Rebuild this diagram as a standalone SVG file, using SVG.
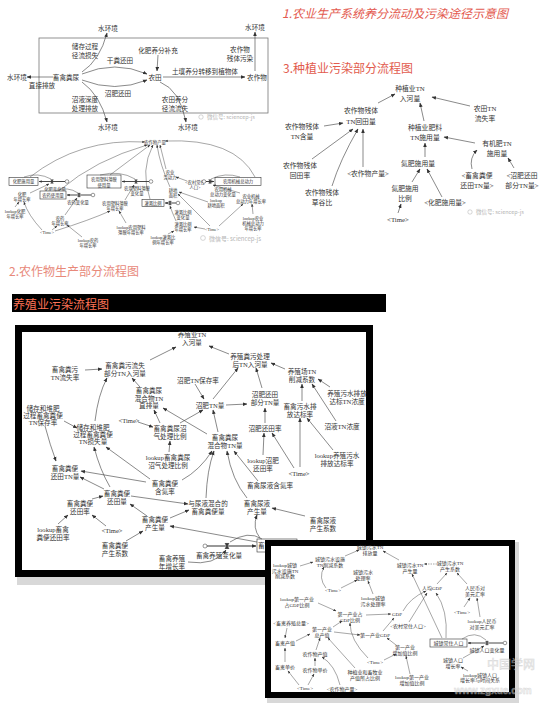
<svg xmlns="http://www.w3.org/2000/svg" width="547" height="705" viewBox="0 0 547 705">
<defs>
<style>
text{font-family:"Liberation Serif","Noto Sans CJK SC",serif;fill:#333;text-anchor:middle;dominant-baseline:central}
.s1{font-size:6.6px}
.s2{font-size:4.3px}
.s3{font-size:6.8px}
.sb{font-size:6.6px}
.sf{font-size:5px}
.ttl{font-family:"Noto Sans CJK SC",sans-serif;font-size:12px;text-anchor:start}
.wm{fill:#b4b4b4;text-anchor:start;font-family:"Noto Sans CJK SC",sans-serif}
.ln{fill:none;stroke:#3a3a3a;stroke-width:0.6}
.lt{fill:none;stroke:#3a3a3a;stroke-width:0.45}
.box{fill:#fff;stroke:#333;stroke-width:0.6}
.pipe{fill:none;stroke:#333;stroke-width:1.1}
.src{fill:#fff;stroke:#333;stroke-width:0.5}
</style>
<marker id="a" viewBox="0 0 10 10" refX="9" refY="5" markerWidth="4.5" markerHeight="4.5" markerUnits="userSpaceOnUse" orient="auto"><path d="M0,1L10,5L0,9z" fill="#333"/></marker>
<marker id="as" viewBox="0 0 10 10" refX="9" refY="5" markerWidth="3" markerHeight="3" markerUnits="userSpaceOnUse" orient="auto"><path d="M0,1L10,5L0,9z" fill="#333"/></marker>
<g id="vv"><path d="M-1.3,-1.8H1.3L-1.3,1.8H1.3Z" fill="#333"/></g>
</defs>
<rect width="547" height="705" fill="#fff"/>

<!-- titles -->
<g id="title1"><text class="ttl" x="282" y="12" style="font-style:italic;fill:#e35a4f">1.农业生产系统养分流动及污染途径示意图</text></g>
<g id="title3"><text class="ttl" x="283" y="67" style="fill:#e25b4e">3.种植业污染部分流程图</text></g>
<g id="title2"><text class="ttl" x="9" y="270" style="fill:#e8897a">2.农作物生产部分流程图</text></g>
<g id="title4"><rect x="12" y="294" width="374" height="18" fill="#000"/><text class="ttl" x="13" y="303" style="fill:#ff7356">养殖业污染流程图</text></g>

<!-- ============ Section 1 ============ -->
<rect x="39" y="38" width="229" height="75" fill="none" stroke="#777" stroke-width="0.8"/>
<g id="s1-nodes">
<g id="s1_w1"><text class="s1" x="108" y="28">水环境</text></g>
<g id="s1_ccjl"><text class="s1" x="85" y="46"><tspan x="85" y="46">储存过程</tspan><tspan x="85" y="55">径流损失</tspan></text></g>
<g id="s1_gf"><text class="s1" x="120" y="60">干粪还田</text></g>
<g id="s1_hf"><text class="s1" x="158" y="50">化肥养分补充</text></g>
<g id="s1_cz"><text class="s1" x="240" y="49"><tspan x="240" y="49">农作物</tspan><tspan x="240" y="58">残体污染</tspan></text></g>
<g id="s1_w2"><text class="s1" x="255" y="27">水环境</text></g>
<g id="s1_w3"><text class="s1" x="17" y="77">水环境</text></g>
<g id="s1_zj"><text class="s1" x="42" y="85">直接排放</text></g>
<g id="s1_xq"><text class="s1" x="66" y="77">畜禽粪尿</text></g>
<g id="s1_nt"><text class="s1" x="155" y="77">农田</text></g>
<g id="s1_tr"><text class="s1" x="205" y="71">土壤养分转移到植物体</text></g>
<g id="s1_nzw"><text class="s1" x="257" y="77">农作物</text></g>
<g id="s1_zf"><text class="s1" x="118" y="93">沼肥还田</text></g>
<g id="s1_zy"><text class="s1" x="85" y="99"><tspan x="85" y="99">沼液深度</tspan><tspan x="85" y="108">处理排放</tspan></text></g>
<g id="s1_ntyf"><text class="s1" x="175" y="99"><tspan x="175" y="99">农田养分</tspan><tspan x="175" y="108">径流流失</tspan></text></g>
<g id="s1_w4"><text class="s1" x="108" y="127">水环境</text></g>
<g id="s1_w5"><text class="s1" x="188" y="127">水环境</text></g>
</g>
<g id="s1-connectors" class="ln">
<path d="M82,72 Q100,60 107,33" marker-end="url(#a)"/>
<path d="M82,74 Q115,60 147,74" marker-end="url(#a)"/>
<path d="M82,80 Q115,93 147,80" marker-end="url(#a)"/>
<path d="M82,82 Q100,95 107,122" marker-end="url(#a)"/>
<path d="M160,82 Q180,90 186,122" marker-end="url(#a)"/>
<path d="M158,55 L157,71" marker-end="url(#a)"/>
<path d="M163,77 L245,77" marker-end="url(#a)"/>
<path d="M255,71 L255,32" marker-end="url(#a)"/>
<path d="M53,77 L27,77" marker-end="url(#a)"/>
</g>
<g id="wm1"><circle cx="201" cy="117" r="2.2" fill="none" stroke="#bbb" stroke-width="0.6"/><text class="wm" x="207" y="117" style="font-size:5.5px">微信号: sciencep-js</text></g>

<!-- ============ Section 3 ============ -->
<g id="s3-nodes">
<g id="s3_rh"><text class="s3" x="410" y="88"><tspan x="410" y="88">种植业TN</tspan><tspan x="410" y="98">入河量</tspan></text></g>
<g id="s3_hth"><text class="s3" x="361" y="110"><tspan x="361" y="110">农作物残体</tspan><tspan x="361" y="121">TN回田量</tspan></text></g>
<g id="s3_ls"><text class="s3" x="485" y="108"><tspan x="485" y="108">农田TN</tspan><tspan x="485" y="118">流失率</tspan></text></g>
<g id="s3_hl"><text class="s3" x="302" y="126"><tspan x="302" y="126">农作物残体</tspan><tspan x="302" y="136">TN含量</tspan></text></g>
<g id="s3_fl"><text class="s3" x="425" y="127"><tspan x="425" y="127">种植业肥料</tspan><tspan x="425" y="137">TN施用量</tspan></text></g>
<g id="s3_yj"><text class="s3" x="497" y="143"><tspan x="497" y="143">有机肥TN</tspan><tspan x="497" y="153">施用量</tspan></text></g>
<g id="s3_htl"><text class="s3" x="300" y="165"><tspan x="300" y="165">农作物残体</tspan><tspan x="300" y="175">回田率</tspan></text></g>
<g id="s3_df"><text class="s3" x="418" y="163">氮肥施用量</text></g>
<g id="s3_cl"><text class="s3" x="368" y="173">&lt;农作物产量&gt;</text></g>
<g id="s3_xq"><text class="s3" x="477" y="175"><tspan x="477" y="175">&lt;畜禽粪便</tspan><tspan x="477" y="185">还田TN量&gt;</tspan></text></g>
<g id="s3_zf"><text class="s3" x="522" y="175"><tspan x="522" y="175">&lt;沼肥还田</tspan><tspan x="522" y="185">部分TN量&gt;</tspan></text></g>
<g id="s3_cgb"><text class="s3" x="322" y="192"><tspan x="322" y="192">农作物残体</tspan><tspan x="322" y="202">草谷比</tspan></text></g>
<g id="s3_dfb"><text class="s3" x="405" y="188"><tspan x="405" y="188">氮肥施用</tspan><tspan x="405" y="198">比例</tspan></text></g>
<g id="s3_hfs"><text class="s3" x="445" y="202">&lt;化肥施用量&gt;</text></g>
<g id="s3_time"><text class="s3" x="398" y="219">&lt;Time&gt;</text></g>
</g>
<g id="s3-connectors" class="ln">
<path d="M378,103 L395,94" marker-end="url(#a)"/>
<path d="M470,106 L432,97" marker-end="url(#a)"/>
<path d="M424,121 L420,103" marker-end="url(#a)"/>
<path d="M324,126 L343,123" marker-end="url(#a)"/>
<path d="M312,159 L353,129" marker-end="url(#a)"/>
<path d="M332,186 Q340,160 358,129" marker-end="url(#a)"/>
<path d="M363,167 L363,129" marker-end="url(#a)"/>
<path d="M425,157 L425,143" marker-end="url(#a)"/>
<path d="M475,143 L444,137" marker-end="url(#a)"/>
<path d="M472,169 Q469,158 477,150" marker-end="url(#a)"/>
<path d="M514,168 L508,158" marker-end="url(#a)"/>
<path d="M412,182 L420,169" marker-end="url(#a)"/>
<path d="M442,197 L427,169" marker-end="url(#a)"/>
<path d="M398,213 L401,204" marker-end="url(#a)"/>
</g>
<g id="wm3"><circle cx="470" cy="212" r="2.2" fill="none" stroke="#bbb" stroke-width="0.6"/><text class="wm" x="476" y="212" style="font-size:5.5px">微信号: sciencep-js</text></g>

<!-- ============ Section 2 ============ -->
<g id="s2-nodes">
<g id="s2_cl"><text class="s2" x="155" y="142">农作物产量</text></g>
<g id="s2_ldl"><text class="s2" x="170" y="172"><tspan x="170" y="172">农业</tspan><tspan x="170" y="177">劳动力</tspan></text></g>
<g id="s2_nc"><text class="s2" x="195" y="182"><tspan x="195" y="182">&lt;农村常住</tspan><tspan x="195" y="187">人口&gt;</tspan></text></g>
<g id="s2_hf"><rect class="box" x="9" y="177.5" width="29" height="8"/><text class="s2" x="23.5" y="181.5">化肥施用量</text></g>
<g id="s2_hfb"><text class="s2" x="55" y="189">化肥变化量</text></g>
<g id="s2_hfz"><text class="s2" x="22" y="194"><tspan x="22" y="194">化肥</tspan><tspan x="22" y="199">年增长率</tspan></text></g>
<g id="s2_lhf"><text class="s2" x="15" y="211"><tspan x="15" y="211">lookup化肥</tspan><tspan x="15" y="216">年增长率</tspan></text></g>
<g id="s2_ny"><rect class="box" x="40" y="191" width="26" height="8"/><text class="s2" x="53" y="195">农药使用量</text></g>
<g id="s2_nyb"><text class="s2" x="78" y="202">农药变化量</text></g>
<g id="s2_nyz"><text class="s2" x="60" y="218"><tspan x="60" y="218">农药</tspan><tspan x="60" y="223">年增长率</tspan></text></g>
<g id="s2_t1"><text class="s2" x="47" y="232">&lt;Time&gt;</text></g>
<g id="s2_lny"><text class="s2" x="88" y="240"><tspan x="88" y="240">lookup农药</tspan><tspan x="88" y="245">年增长率</tspan></text></g>
<g id="s2_sl"><rect class="box" x="87" y="175" width="34" height="13"/><text class="s2" x="104" y="179"><tspan x="104" y="179">农用塑料薄膜</tspan><tspan x="104" y="184.5">使用量</tspan></text></g>
<g id="s2_slb"><text class="s2" x="137" y="188"><tspan x="137" y="188">农用塑料薄膜</tspan><tspan x="137" y="193">变化量</tspan></text></g>
<g id="s2_slz"><text class="s2" x="115" y="203"><tspan x="115" y="203">农用塑料薄膜</tspan><tspan x="115" y="208">年增长率</tspan></text></g>
<g id="s2_lsl"><text class="s2" x="131" y="227"><tspan x="131" y="227">lookup农用塑料</tspan><tspan x="131" y="232">薄膜年增长率</tspan></text></g>
<g id="s2_gd"><text class="s2" x="173" y="190"><tspan x="173" y="190">耕地</tspan><tspan x="173" y="195">面积</tspan></text></g>
<g id="s2_gg"><rect class="box" x="142" y="199.5" width="22" height="7"/><text class="s2" x="153" y="203">灌溉比例</text></g>
<g id="s2_ggb"><text class="s2" x="183" y="212"><tspan x="183" y="212">灌溉比例</tspan><tspan x="183" y="217">变化量</tspan></text></g>
<g id="s2_lgd"><text class="s2" x="216" y="200"><tspan x="216" y="200">lookup</tspan><tspan x="216" y="205">耕地面积</tspan></text></g>
<g id="s2_jx"><rect class="box" x="215" y="177.5" width="46" height="8"/><text class="s2" x="238" y="181.5">农用机械总动力</text></g>
<g id="s2_jxb"><text class="s2" x="223" y="188.5"><tspan x="223" y="188.5">农用机械</tspan><tspan x="223" y="193.5">总动力变化量</tspan></text></g>
<g id="s2_jxz"><text class="s2" x="251" y="196"><tspan x="251" y="196">农业机械</tspan><tspan x="251" y="201">总动力年增长率</tspan></text></g>
<g id="s2_ljx"><text class="s2" x="253" y="218"><tspan x="253" y="218">lookup农业</tspan><tspan x="253" y="223">机械总动力</tspan><tspan x="253" y="228">年增长率</tspan></text></g>
<g id="s2_ggz"><text class="s2" x="183" y="224"><tspan x="183" y="224">灌溉比例</tspan><tspan x="183" y="229">年增长率</tspan></text></g>
<g id="s2_t2"><text class="s2" x="212" y="229">&lt;Time&gt;</text></g>
<g id="s2_lgg"><text class="s2" x="163" y="237"><tspan x="163" y="237">lookup灌溉比</tspan><tspan x="163" y="242">例年增长率</tspan></text></g>
</g>
<g id="s2-connectors" class="lt">
<path class="pipe" d="M65,181.5 L39,181.5" marker-end="url(#as)" style="stroke-width:0.9"/>
<circle class="src" cx="67" cy="181.5" r="1.8"/><use href="#vv" x="52" y="181.5"/>
<path class="pipe" d="M91,195 L67,195" marker-end="url(#as)" style="stroke-width:0.9"/>
<circle class="src" cx="93" cy="195" r="1.8"/><use href="#vv" x="79" y="195"/>
<path class="pipe" d="M149,181.5 L122,181.5" marker-end="url(#as)" style="stroke-width:0.9"/>
<circle class="src" cx="151" cy="181.5" r="1.8"/><use href="#vv" x="136" y="181.5"/>
<path class="pipe" d="M176,203 L165,203" marker-end="url(#as)" style="stroke-width:0.9"/>
<circle class="src" cx="178" cy="203" r="1.8"/><use href="#vv" x="170" y="203"/>
<path class="pipe" d="M206,181.5 L214,181.5" marker-end="url(#as)" style="stroke-width:0.9"/>
<circle class="src" cx="204" cy="181.5" r="1.8"/><use href="#vv" x="210" y="181.5"/>
<path d="M30,177 Q80,138 145,142" marker-end="url(#as)"/>
<path d="M60,190 Q95,160 147,145" marker-end="url(#as)"/>
<path d="M110,175 L150,145" marker-end="url(#as)"/>
<path d="M150,199 Q140,170 153,145" marker-end="url(#as)"/>
<path d="M170,187 Q160,165 157,145" marker-end="url(#as)"/>
<path d="M166,169 L160,145" marker-end="url(#as)"/>
<path d="M255,177 Q235,138 165,141" marker-end="url(#as)"/>
<path d="M187,181 L176,177" marker-end="url(#as)"/>
<path d="M30,193 L49,184" marker-end="url(#as)"/>
<path d="M15,207 L19,202" marker-end="url(#as)"/>
<path d="M42,230 Q28,215 24,202" marker-end="url(#as)"/>
<path d="M52,230 L57,226" marker-end="url(#as)"/>
<path d="M65,215 L77,198" marker-end="url(#as)"/>
<path d="M82,237 L67,225" marker-end="url(#as)"/>
<path d="M55,231 Q90,220 110,211" marker-end="url(#as)"/>
<path d="M125,200 L134,185" marker-end="url(#as)"/>
<path d="M126,223 L119,211" marker-end="url(#as)"/>
<path d="M176,221 Q172,212 170,206" marker-end="url(#as)"/>
<path d="M168,234 L174,231" marker-end="url(#as)"/>
<path d="M205,229 L194,227" marker-end="url(#as)"/>
<path d="M210,226 L178,194" marker-end="url(#as)"/>
<path d="M208,202 L179,192" marker-end="url(#as)"/>
<path d="M219,226 L243,204" marker-end="url(#as)"/>
<path d="M253,214 L252,204" marker-end="url(#as)"/>
<path d="M240,193 L213,185" marker-end="url(#as)"/>
<path d="M24,177 Q38,172 51,179"/>
<path d="M100,175 Q120,170 135,179"/>
<path d="M55,191 Q68,186 78,193"/>
<path d="M240,177 Q225,172 211,179"/>
</g>
<g id="wm2"><circle cx="203" cy="238" r="2.4" fill="none" stroke="#bbb" stroke-width="0.6"/><text class="wm" x="209" y="238" style="font-size:6px">微信号: sciencep-js</text></g>

<!-- ============ Frame 1 : livestock ============ -->
<rect x="17" y="577" width="359" height="8" fill="#d8d8d8"/>
<rect x="18.5" y="328.5" width="351" height="245" fill="#fff" stroke="#000" stroke-width="7"/>
<g id="f1-nodes">
<g id="b_rh"><text class="sb" x="192" y="334"><tspan x="192" y="334">养殖业TN</tspan><tspan x="192" y="341.5">入河量</tspan></text></g>
<g id="b_lsbf"><text class="sb" x="125" y="365"><tspan x="125" y="365">畜禽粪污流失</tspan><tspan x="125" y="372.5">部分TN入河量</tspan></text></g>
<g id="b_lsl"><text class="sb" x="65" y="369"><tspan x="65" y="369">畜禽粪污</tspan><tspan x="65" y="376.5">TN流失率</tspan></text></g>
<g id="b_zfbc"><text class="sb" x="198" y="380">沼肥TN保存率</text></g>
<g id="b_zp"><text class="sb" x="149" y="390"><tspan x="149" y="390">畜禽粪尿</tspan><tspan x="149" y="397.5">混合物TN</tspan><tspan x="149" y="405">直排量</tspan></text></g>
<g id="b_bcl"><text class="sb" x="43" y="408"><tspan x="43" y="408">储存和堆肥</tspan><tspan x="43" y="415">过程畜禽粪便</tspan><tspan x="43" y="422">TN保存率</tspan></text></g>
<g id="b_t1"><text class="sb" x="129" y="420">&lt;Time&gt;</text></g>
<g id="b_ssl"><text class="sb" x="93" y="427"><tspan x="93" y="427">储存和堆肥</tspan><tspan x="93" y="434">过程畜禽粪便</tspan><tspan x="93" y="441">TN损失量</tspan></text></g>
<g id="b_zqbl"><text class="sb" x="170" y="428"><tspan x="170" y="428">畜禽粪尿沼</tspan><tspan x="170" y="436">气处理比例</tspan></text></g>
<g id="b_lzq"><text class="sb" x="168" y="457"><tspan x="168" y="457">lookup畜禽粪尿</tspan><tspan x="168" y="465">沼气处理比例</tspan></text></g>
<g id="b_zftn"><text class="sb" x="210" y="405">沼肥TN量</text></g>
<g id="b_zfht"><text class="sb" x="265" y="394"><tspan x="265" y="394">沼肥还田</tspan><tspan x="265" y="402">部分TN量</tspan></text></g>
<g id="b_hhw"><text class="sb" x="225" y="437"><tspan x="225" y="437">畜禽粪尿</tspan><tspan x="225" y="445">混合物TN量</tspan></text></g>
<g id="b_zfhtl"><text class="sb" x="265" y="428">沼肥还田率</text></g>
<g id="b_lzf"><text class="sb" x="263" y="460"><tspan x="263" y="460">lookup沼肥</tspan><tspan x="263" y="468">还田率</tspan></text></g>
<g id="b_t2"><text class="sb" x="299" y="473">&lt;Time&gt;</text></g>
<g id="b_hdl"><text class="sb" x="165" y="483"><tspan x="165" y="483">畜禽粪便</tspan><tspan x="165" y="491">含氮率</tspan></text></g>
<g id="b_nyhd"><text class="sb" x="270" y="485">畜禽尿液含氮率</text></g>
<g id="b_clh"><text class="sb" x="250" y="356"><tspan x="250" y="356">养殖粪污处理</tspan><tspan x="250" y="363.5">后TN入河量</tspan></text></g>
<g id="b_xj"><text class="sb" x="302" y="371"><tspan x="302" y="371">养殖场TN</tspan><tspan x="302" y="378.5">削减系数</tspan></text></g>
<g id="b_nd"><text class="sb" x="347" y="393"><tspan x="347" y="393">养殖污水排放</tspan><tspan x="347" y="400.5">达标TN浓度</tspan></text></g>
<g id="b_dbl"><text class="sb" x="300" y="406"><tspan x="300" y="406">畜禽污水排</tspan><tspan x="300" y="413.5">放达标率</tspan></text></g>
<g id="b_zy"><text class="sb" x="342" y="426">沼液TN浓度</text></g>
<g id="b_ldb"><text class="sb" x="337" y="455"><tspan x="337" y="455">lookup养殖污水</tspan><tspan x="337" y="463">排放达标率</tspan></text></g>
<g id="b_httn"><text class="sb" x="65" y="468"><tspan x="65" y="468">畜禽粪便</tspan><tspan x="65" y="475.5">还田TN量</tspan></text></g>
<g id="b_htl_q"><text class="sb" x="117" y="493"><tspan x="117" y="493">畜禽粪便</tspan><tspan x="117" y="500.5">还田量</tspan></text></g>
<g id="b_htlv"><text class="sb" x="80" y="503"><tspan x="80" y="503">畜禽粪便</tspan><tspan x="80" y="511">还田率</tspan></text></g>
<g id="b_lht"><text class="sb" x="53" y="529"><tspan x="53" y="529">lookup畜禽</tspan><tspan x="53" y="537">粪便还田率</tspan></text></g>
<g id="b_t3"><text class="sb" x="112" y="530">&lt;Time&gt;</text></g>
<g id="b_csl"><text class="sb" x="155" y="519"><tspan x="155" y="519">畜禽粪便</tspan><tspan x="155" y="527">产生量</tspan></text></g>
<g id="b_csx"><text class="sb" x="115" y="545"><tspan x="115" y="545">畜禽粪便</tspan><tspan x="115" y="553">产生系数</tspan></text></g>
<g id="b_hh"><text class="sb" x="208" y="503"><tspan x="208" y="503">与尿液混合的</tspan><tspan x="208" y="511">畜禽粪便量</tspan></text></g>
<g id="b_ny"><text class="sb" x="257" y="503"><tspan x="257" y="503">畜禽尿液</tspan><tspan x="257" y="510.5">产生量</tspan></text></g>
<g id="b_nyx"><text class="sb" x="323" y="520"><tspan x="323" y="520">畜禽尿液</tspan><tspan x="323" y="528">产生系数</tspan></text></g>
<g id="b_yzb"><text class="sb" x="219" y="555">畜禽养殖变化量</text></g>
<g id="b_yzz"><text class="sb" x="172" y="558"><tspan x="172" y="558">畜禽养殖</tspan><tspan x="172" y="566">年增长率</tspan></text></g>
<g id="b_box"><rect class="box" x="257" y="539" width="40" height="13"/><text class="sb" x="258" y="545.5" style="text-anchor:start">畜禽</text></g>
</g>
<g id="f1-connectors" class="ln">
<path d="M150,360 L176,347" marker-end="url(#a)"/>
<path d="M229,354 L209,346" marker-end="url(#a)"/>
<path d="M85,370 L102,369" marker-end="url(#a)"/>
<path d="M140,387 L132,378" marker-end="url(#a)"/>
<path d="M95,421 Q98,395 107,378" marker-end="url(#a)"/>
<path d="M64,421 L77,428" marker-end="url(#a)"/>
<path d="M45,426 Q50,445 56,461" marker-end="url(#a)"/>
<path d="M195,384 L204,399" marker-end="url(#a)"/>
<path d="M213,399 L238,368" marker-end="url(#a)"/>
<path d="M226,405 L247,404" marker-end="url(#a)"/>
<path d="M262,388 L256,368" marker-end="url(#a)"/>
<path d="M285,369 L271,363" marker-end="url(#a)"/>
<path d="M330,387 L318,379" marker-end="url(#a)"/>
<path d="M302,401 L302,384" marker-end="url(#a)"/>
<path d="M336,421 L312,384" marker-end="url(#a)"/>
<path d="M265,423 L265,408" marker-end="url(#a)"/>
<path d="M263,455 L264,433" marker-end="url(#a)"/>
<path d="M294,468 L272,433" marker-end="url(#a)"/>
<path d="M333,450 L307,418" marker-end="url(#a)"/>
<path d="M300,467 L300,418" marker-end="url(#a)"/>
<path d="M218,432 L213,410" marker-end="url(#a)"/>
<path d="M207,434 L163,408" marker-end="url(#a)"/>
<path d="M180,423 L203,410" marker-end="url(#a)"/>
<path d="M160,423 L154,410" marker-end="url(#a)"/>
<path d="M138,422 L153,427" marker-end="url(#a)"/>
<path d="M169,452 L170,441" marker-end="url(#a)"/>
<path d="M146,482 L81,471" marker-end="url(#a)"/>
<path d="M182,480 Q200,470 212,451" marker-end="url(#a)"/>
<path d="M110,487 Q100,470 94,447" marker-end="url(#a)"/>
<path d="M150,479 L106,447" marker-end="url(#a)"/>
<path d="M104,489 L80,477" marker-end="url(#a)"/>
<path d="M92,499 L103,496" marker-end="url(#a)"/>
<path d="M58,524 L68,515" marker-end="url(#a)"/>
<path d="M106,526 L92,515" marker-end="url(#a)"/>
<path d="M147,516 L130,504" marker-end="url(#a)"/>
<path d="M170,518 L189,510" marker-end="url(#a)"/>
<path d="M131,496 L188,504" marker-end="url(#a)"/>
<path d="M126,541 L143,531" marker-end="url(#a)"/>
<path d="M206,498 Q207,470 214,451" marker-end="url(#a)"/>
<path d="M247,498 Q232,480 227,451" marker-end="url(#a)"/>
<path d="M258,481 L234,451" marker-end="url(#a)"/>
<path d="M305,516 L272,508" marker-end="url(#a)"/>
<path d="M260,538 Q252,528 257,515" marker-end="url(#a)"/>
<path d="M257,542 L170,526" marker-end="url(#a)"/>
<path d="M188,562 Q215,566 226,550" marker-end="url(#a)"/>
<path d="M262,539 Q248,530 230,542"/>
<path class="pipe" d="M207,546 L256,546" marker-end="url(#a)"/>
<circle class="src" cx="205" cy="546" r="2"/>
<use href="#vv" transform="translate(227,546) scale(1.4)"/>
</g>

<!-- ============ Frame 2 : urban / GDP ============ -->
<rect x="267" y="697" width="252" height="6" fill="#d8d8d8"/>
<rect x="514" y="542" width="5" height="160" fill="#d8d8d8"/>
<rect x="268" y="543" width="244" height="152" fill="#fff" stroke="#000" stroke-width="6"/>
<g id="wm-big" opacity="0.55">
<text x="511" y="663" style="font-family:'Noto Sans CJK SC',sans-serif;font-size:12px;fill:#eee;stroke:#bbb;stroke-width:0.5">中国学网</text>
<text x="493" y="690" style="font-family:'Liberation Sans',sans-serif;font-size:10px;font-weight:bold;fill:#eee;stroke:#bbb;stroke-width:0.5">www.zgxue.com</text>
</g>
<g id="f2-nodes">
<g id="c_pf"><text class="sf" x="370" y="547"><tspan x="370" y="547">城镇污水TN</tspan><tspan x="370" y="552.5">排放量</tspan></text></g>
<g id="c_lxj"><text class="sf" x="285" y="565"><tspan x="285" y="565">lookup城镇</tspan><tspan x="285" y="570.5">污水设施TN</tspan><tspan x="285" y="576">削减系数</tspan></text></g>
<g id="c_xj"><text class="sf" x="330" y="559"><tspan x="330" y="559">城镇污水设施</tspan><tspan x="330" y="564.5">TN削减系数</tspan></text></g>
<g id="c_cll"><text class="sf" x="363" y="572"><tspan x="363" y="572">城镇污水</tspan><tspan x="363" y="577.5">处理率</tspan></text></g>
<g id="c_t1"><text class="sf" x="333" y="590">&lt;Time&gt;</text></g>
<g id="c_lcl"><text class="sf" x="373" y="598"><tspan x="373" y="598">lookup城镇</tspan><tspan x="373" y="603.5">污水处理率</tspan></text></g>
<g id="c_lgdp"><text class="sf" x="297" y="599"><tspan x="297" y="599">lookup第一产业</tspan><tspan x="297" y="604.5">占GDP比例</tspan></text></g>
<g id="c_gdpb"><text class="sf" x="350" y="614"><tspan x="350" y="614">第一产业占</tspan><tspan x="350" y="619.5">GDP比例</tspan></text></g>
<g id="c_gdp"><text class="sf" x="397" y="614">GDP</text></g>
<g id="c_xqz"><text class="sf" x="291" y="623">&lt;畜禽养殖总量&gt;</text></g>
<g id="c_nc"><text class="sf" x="408" y="626">&lt;农村常住人口&gt;</text></g>
<g id="c_zcz"><text class="sf" x="322" y="629"><tspan x="322" y="629">第一产业</tspan><tspan x="322" y="634.5">总产值</tspan></text></g>
<g id="c_xqcz"><text class="sf" x="285" y="643">畜禽产值</text></g>
<g id="c_dygdp"><text class="sf" x="375" y="635">第一产业GDP</text></g>
<g id="c_nzcz"><text class="sf" x="315" y="654">农作物产值</text></g>
<g id="c_t2"><text class="sf" x="375" y="662">&lt;Time&gt;</text></g>
<g id="c_zjz"><text class="sf" x="405" y="647"><tspan x="405" y="647">第一产业</tspan><tspan x="405" y="652.5">增加值比例</tspan></text></g>
<g id="c_xqdj"><text class="sf" x="285" y="667">畜禽单价</text></g>
<g id="c_nzdj"><text class="sf" x="315" y="670">农作物单价</text></g>
<g id="c_bl"><text class="sf" x="365" y="672"><tspan x="365" y="672">种植业和畜牧业</tspan><tspan x="365" y="677.5">产值所占比例</tspan></text></g>
<g id="c_t3"><text class="sf" x="305" y="688">&lt;Time&gt;</text></g>
<g id="c_ncl"><text class="sf" x="342" y="689">&lt;农作物产量&gt;</text></g>
<g id="c_lzjz"><text class="sf" x="412" y="677"><tspan x="412" y="677">lookup第一产业</tspan><tspan x="412" y="682.5">增加值比例</tspan></text></g>
<g id="c_csl"><text class="sf" x="410" y="565"><tspan x="410" y="565">城镇污水TN</tspan><tspan x="410" y="570.5">产生量</tspan></text></g>
<g id="c_csx"><text class="sf" x="450" y="563"><tspan x="450" y="563">城镇污水TN</tspan><tspan x="450" y="568.5">产生系数</tspan></text></g>
<g id="c_rj"><text class="sf" x="432" y="588">人均GDP</text></g>
<g id="c_hl"><text class="sf" x="475" y="588"><tspan x="475" y="588">人民币对</tspan><tspan x="475" y="593.5">美元汇率</tspan></text></g>
<g id="c_t4"><text class="sf" x="462" y="612">&lt;Time&gt;</text></g>
<g id="c_lhl"><text class="sf" x="482" y="621"><tspan x="482" y="621">lookup人民币</tspan><tspan x="482" y="626.5">对美元汇率</tspan></text></g>
<g id="c_box"><rect class="box" x="430" y="639" width="37" height="8"/><text class="sf" x="448.5" y="643">城镇常住人口</text></g>
<g id="c_rkb"><text class="sf" x="487" y="650.5">城镇人口变化量</text></g>
<g id="c_zzl"><text class="sf" x="453" y="660"><tspan x="453" y="660">城镇人口</tspan><tspan x="453" y="665.5">增长率</tspan></text></g>
<g id="c_lzzl"><text class="sf" x="480" y="674.5"><tspan x="480" y="674.5">lookup城镇人口</tspan><tspan x="480" y="680">增长率与时间关系</tspan></text></g>
</g>
<g id="f2-connectors" class="lt">
<path d="M345,556 L359,550" marker-end="url(#as)"/>
<path d="M300,566 L313,562" marker-end="url(#as)"/>
<path d="M399,560 L383,551" marker-end="url(#as)"/>
<path d="M326,588 Q318,578 324,567" marker-end="url(#as)"/>
<path d="M341,588 L357,580" marker-end="url(#as)"/>
<path d="M373,594 L368,581" marker-end="url(#as)"/>
<path d="M318,603 L336,611" marker-end="url(#as)"/>
<path d="M366,615 L391,614" marker-end="url(#as)"/>
<path d="M403,611 Q410,598 426,591" marker-end="url(#as)"/>
<path d="M409,622 L427,593" marker-end="url(#as)"/>
<path d="M446,638 Q448,610 436,593" marker-end="url(#as)"/>
<path d="M442,638 L412,574" marker-end="url(#as)"/>
<path d="M437,584 L447,573" marker-end="url(#as)"/>
<path d="M437,564 L424,564" marker-end="url(#as)" stroke-dasharray="1.5,1"/>
<path d="M467,584 L457,573" marker-end="url(#as)"/>
<path d="M464,607 L470,598" marker-end="url(#as)"/>
<path d="M480,617 L477,598" marker-end="url(#as)"/>
<path d="M333,627 L342,621" marker-end="url(#as)"/>
<path d="M334,632 L360,635" marker-end="url(#as)"/>
<path d="M383,631 L394,618" marker-end="url(#as)"/>
<path d="M396,645 L387,638" marker-end="url(#as)"/>
<path d="M368,658 Q350,640 350,623" marker-end="url(#as)"/>
<path d="M384,660 L396,654" marker-end="url(#as)"/>
<path d="M410,674 L406,656" marker-end="url(#as)"/>
<path d="M287,628 L285,638" marker-end="url(#as)"/>
<path d="M296,641 L310,634" marker-end="url(#as)"/>
<path d="M316,650 L320,638" marker-end="url(#as)"/>
<path d="M285,662 L285,648" marker-end="url(#as)"/>
<path d="M315,666 L315,658" marker-end="url(#as)"/>
<path d="M299,685 L288,671" marker-end="url(#as)"/>
<path d="M308,685 L314,674" marker-end="url(#as)"/>
<path d="M340,685 Q335,665 322,657" marker-end="url(#as)"/>
<path d="M355,668 L328,638" marker-end="url(#as)"/>
<path d="M463,658 L484,646" marker-end="url(#as)"/>
<path d="M468,671 L461,667" marker-end="url(#as)"/>
<path d="M462,639 Q475,630 486,640"/>
<path class="pipe" d="M503,643 L468,643" marker-end="url(#as)" style="stroke-width:0.9"/>
<circle class="src" cx="505" cy="643" r="1.8"/>
<use href="#vv" x="487" y="643"/>
</g>
</svg>
